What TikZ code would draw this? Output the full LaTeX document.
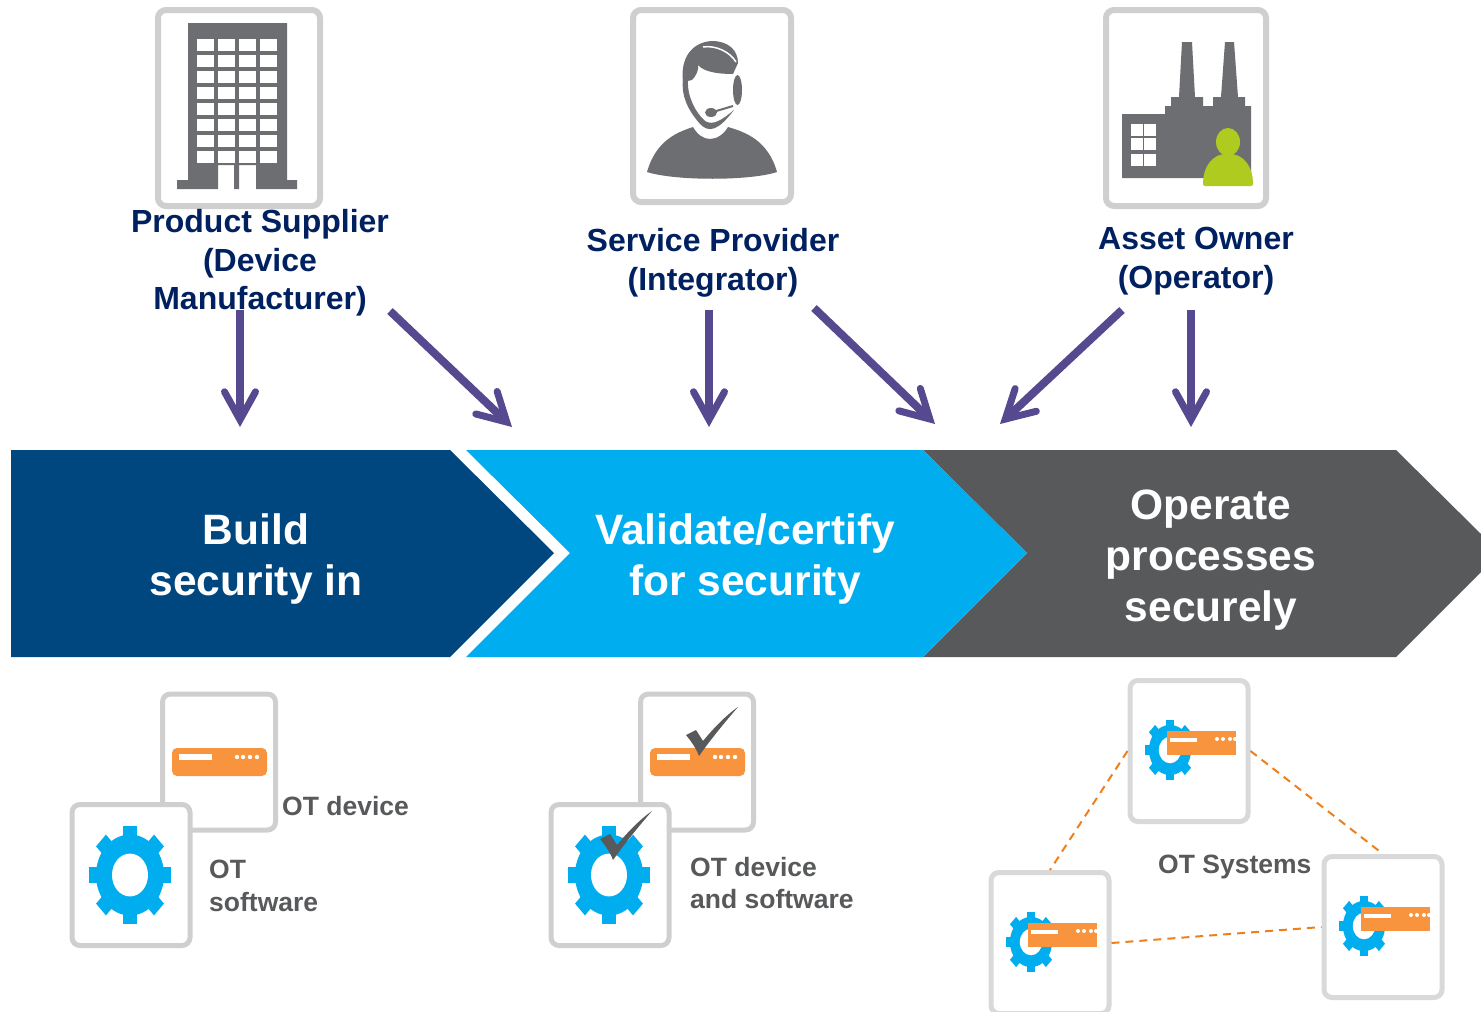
\documentclass[tikz,border=0pt]{standalone}
\usepackage{fontspec}
\usetikzlibrary{arrows.meta}
\setmainfont{Liberation Sans}
\definecolor{cardgray}{HTML}{CFCFCF}
\definecolor{icongray}{HTML}{6D6E71}
\definecolor{darkgray}{HTML}{58595B}
\definecolor{buildblue}{HTML}{00467F}
\definecolor{gearblue}{HTML}{00ADEF}
\definecolor{boxorange}{HTML}{F7943D}
\definecolor{linkorange}{HTML}{EE7F1A}
\definecolor{limegreen}{HTML}{B0CB1F}
\definecolor{navytext}{HTML}{002060}
\definecolor{arrowpurple}{HTML}{56498F}
\tikzset{
  card/.style={draw=cardgray,line width=6pt,rounded corners=8pt,fill=white,inner sep=0pt},
  smallcard/.style={card,line width=5pt,minimum width=113pt,minimum height=136pt},
  softcard/.style={card,line width=5pt,minimum width=118pt,minimum height=141pt},
  syscard/.style={card,draw=cardgray!80,line width=5pt,minimum width=118pt,minimum height=141pt},
  rolelabel/.style={align=center,text=navytext,font=\fontsize{32}{38.5}\selectfont\bfseries},
  banlabel/.style={align=center,text=white,font=\fontsize{42.5}{51}\selectfont\bfseries},
  otlabel/.style={align=left,anchor=west,inner sep=0pt,text=darkgray,font=\fontsize{26.5}{32.5}\selectfont\bfseries},
  flow/.style={->,arrowpurple,line width=8pt},
  link/.style={linkorange,line width=2pt,dash pattern=on 8pt off 6pt},
  gearicon/.pic={
    \begin{scope}[yscale=1.19]
      \fill[gearblue] (0,0) circle (34);
      \foreach \a in {0,45,...,315}
        \fill[gearblue,rotate=\a] (-7,0) rectangle (7,41);
      \fill[white] (0,0) circle (18);
    \end{scope}
  },
  deviceicon/.pic={
    \fill[boxorange,rounded corners=5pt] (-47,-14) rectangle (48,14);
    \fill[white] (-40,-8) rectangle (-7,-2);
    \foreach \x in {18,24,31,38}
      \fill[white] (\x,-5) circle (2.2);
  },
  sysicon/.pic={
    \pic[scale=.62] at (-19,-1) {gearicon};
    \fill[boxorange] (-22,-20) rectangle (47,4);
    \fill[white] (-19,-13) rectangle (8,-9);
    \foreach \x in {28,34,41,46}
      \fill[white] (\x,-12) circle (2);
  },
  checkicon/.pic={
    \fill[darkgray] (-13,-21) -- (-3,-26) -- (4,-15) .. controls (13,-26) and (26,-40) .. (39,-49)
      .. controls (26,-34) and (12,-17) .. (0,0) .. controls (-3,-8) and (-8,-15) .. cycle;
  }
}
\begin{document}
\begin{tikzpicture}[x=1pt,y=-1pt,>={Straight Barb[length=28pt,width=31pt,line width=7pt,line cap=round,line join=miter]}]
  \useasboundingbox (0,0) rectangle (1481,1012);

  \node[card,minimum width=162pt,minimum height=196pt] (suppliercard) at (239,108) {};
  \fill[icongray] (188,23) -- (287,23) -- (287,180) -- (297,180) -- (297,189) -- (256,189) -- (256,165)
    -- (239,165) -- (239,189) -- (234,189) -- (234,165) -- (218,165) -- (218,189) -- (177,189) -- (177,180) -- (188,180) -- cycle;
  \foreach \x in {197,218,239,260}
    \foreach \y in {39,55,...,151}
      \fill[white] (\x,\y) rectangle (\x+17,\y+11.5);

  \node[card,minimum width=158pt,minimum height=192pt] (providercard) at (712,106) {};
  \fill[icongray] (693,127) .. controls (697,134) and (703,139) .. (710,139) .. controls (717,139) and (724,134) .. (728,127)
    .. controls (745,132) and (768,140) .. (777,172) .. controls (750,181) and (675,181) .. (647,172)
    .. controls (656,140) and (678,132) .. (693,127) -- cycle;
  \fill[icongray] (683,82) .. controls (680,58) and (692,42) .. (712,41) .. controls (728,41) and (738,50) .. (738,63)
    -- (733,74) .. controls (718,74) and (704,72) .. (698,65) .. controls (699,70) and (696,76) .. (692,80) -- cycle;
  \draw[white,line width=1.5pt] (703,47) .. controls (716,45) and (730,52) .. (736,62);
  \fill[icongray] (683,80) .. controls (681,96) and (688,110) .. (700,124) .. controls (709,133) and (718,131) .. (734,110)
    .. controls (722,120) and (713,126) .. (705,121) .. controls (695,112) and (687,96) .. (688,80) -- cycle;
  \fill[icongray] (737.5,90) ellipse [x radius=4.5,y radius=15];
  \draw[icongray,line width=2pt] (733,106) -- (713,112);
  \fill[icongray] (711,112.5) ellipse [x radius=6,y radius=4.5];

  \node[card,minimum width=160pt,minimum height=196pt] (ownercard) at (1186,108) {};
  \fill[icongray] (1122,114) -- (1165,114) -- (1165,106) -- (1171,106) -- (1171,97) -- (1179,97) -- (1182,42) -- (1192,42)
    -- (1195,97) -- (1203,97) -- (1203,106) -- (1213,106) -- (1213,97) -- (1221,97) -- (1225,42) -- (1234,42) -- (1238,97)
    -- (1245,97) -- (1245,106) -- (1251,106) -- (1251,178) -- (1122,178) -- cycle;
  \foreach \x in {1131,1144}
    \foreach \y in {124,138,154}
      \fill[white] (\x,\y) rectangle (\x+12,\y+12);
  \fill[limegreen] (1228,142) ellipse [x radius=12,y radius=14];
  \fill[limegreen,rounded corners=2pt] (1203,186) .. controls (1203,166) and (1213,154) .. (1228,154) .. controls (1243,154) and (1253,166) .. (1253,186) -- cycle;

  \node[rolelabel] (supplierlabel) at (260,263) {Product Supplier\\(Device\\Manufacturer)};
  \node[rolelabel] (providerlabel) at (713,263) {Service Provider\\(Integrator)};
  \node[rolelabel] (ownerlabel) at (1196,261) {Asset Owner\\(Operator)};

  \fill[buildblue] (11,450) -- (450,450) -- (554,553) -- (450,657) -- (11,657) -- cycle;
  \fill[darkgray] (923,450) -- (1396,450) -- (1481,534) -- (1481,572) -- (1396,657) -- (923,657) -- (1027,553) -- cycle;
  \fill[gearblue] (466,450) -- (923,450) -- (1027,553) -- (923,657) -- (466,657) -- (570,553) -- cycle;
  \node[banlabel] (buildlabel) at (256,559) {Build\\security in};
  \node[banlabel] (validatelabel) at (745,559) {Validate/certify\\for security};
  \node[banlabel] (operatelabel) at (1211,560) {Operate\\processes\\securely};

  \coordinate (supplierfoot) at (240,310);
  \coordinate (buildtop) at (240,427);
  \coordinate (supplierside) at (390,311);
  \coordinate (validateleft) at (512,427);
  \coordinate (providerfoot) at (709,310);
  \coordinate (validatetop) at (709,427);
  \coordinate (providerside) at (814,308);
  \coordinate (validateright) at (935,424);
  \coordinate (ownerside) at (1122,310);
  \coordinate (operateleft) at (1000,424);
  \coordinate (ownerfoot) at (1191,310);
  \coordinate (operatetop) at (1191,427);
  \draw[flow] (supplierfoot) -- (buildtop);
  \draw[flow] (supplierside) -- (validateleft);
  \draw[flow] (providerfoot) -- (validatetop);
  \draw[flow] (providerside) -- (validateright);
  \draw[flow] (ownerside) -- (operateleft);
  \draw[flow] (ownerfoot) -- (operatetop);

  \node[smallcard] (devicecard) at (219,762) {};
  \pic at (devicecard) {deviceicon};
  \node[softcard] (softwarecard) at (131,875) {};
  \pic at (130,875) {gearicon};
  \node[otlabel] (devicelabel) at (282,806) {OT device};
  \node[otlabel] (softwarelabel) at (209,886) {OT\\software};

  \node[smallcard] (okdevicecard) at (697,762) {};
  \pic at (okdevicecard) {deviceicon};
  \pic at (699,756) {checkicon};
  \node[softcard] (oksoftwarecard) at (610,875) {};
  \pic at (609,875) {gearicon};
  \pic at (613,860) {checkicon};
  \node[otlabel] (oklabel) at (690,883) {OT device\\and software};

  \node[syscard] (sysa) at (1189,751) {};
  \node[syscard] (sysb) at (1050,943) {};
  \node[syscard] (sysc) at (1383,927) {};
  \pic at (sysa) {sysicon};
  \pic at (sysb) {sysicon};
  \pic at (sysc) {sysicon};
  \draw[link] (sysa.west) -- (sysb.north);
  \draw[link] (sysa.east) -- (sysc.north);
  \draw[link] (sysb.east) -- (sysc.west);
  \node[otlabel] (syslabel) at (1158,867) {OT Systems};
\end{tikzpicture}
\end{document}
